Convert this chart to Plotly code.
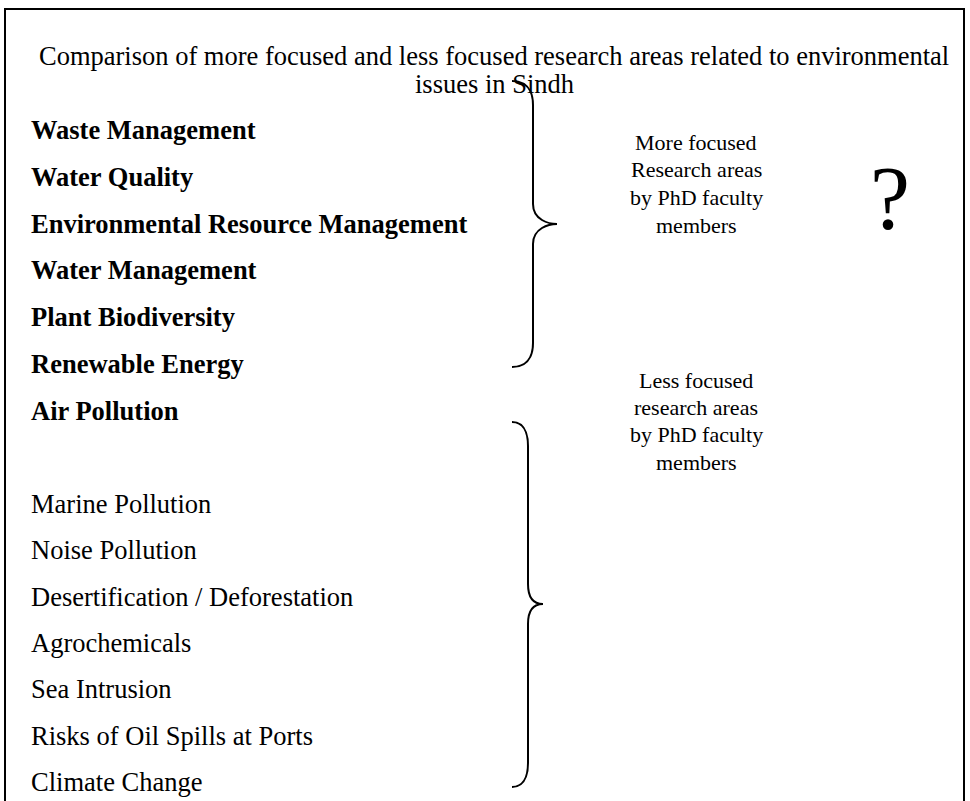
import plotly.graph_objects as go

W, H = 970, 801

title_lines = ["Comparison of more focused and less focused research areas related to environmental",
               "issues in Sindh"]
more_focused = ["Waste Management", "Water Quality", "Environmental Resource Management",
                "Water Management", "Plant Biodiversity", "Renewable Energy", "Air Pollution"]
less_focused = ["Marine Pollution", "Noise Pollution", "Desertification / Deforestation",
                "Agrochemicals", "Sea Intrusion", "Risks of Oil Spills at Ports", "Climate Change"]
more_label = ["More focused", "Research areas", "by PhD faculty", "members"]
less_label = ["Less focused", "research areas", "by PhD faculty", "members"]

FONT = "Liberation Serif"
BIG = 26.5
SMALL = 22
fig = go.Figure()
fig.add_trace(go.Scatter(x=[100], y=[100], mode="markers", marker=dict(opacity=0), hoverinfo="skip", showlegend=False))

ann = []
for i, t in enumerate(title_lines):
    ann.append(dict(x=494, y=56 + i * 28, text=t, xanchor="center", yanchor="middle",
                    font=dict(family=FONT, size=BIG, color="black")))
for i, t in enumerate(more_focused):
    ann.append(dict(x=29, y=130 + i * 46.8, text="<b>" + t + "</b>", xanchor="left", yanchor="middle",
                    font=dict(family=FONT, size=BIG, color="black")))
for i, t in enumerate(less_focused):
    ann.append(dict(x=29, y=504 + i * 46.3, text=t, xanchor="left", yanchor="middle",
                    font=dict(family=FONT, size=BIG, color="black")))
for i, t in enumerate(more_label):
    ann.append(dict(x=696, y=142 + i * 27.7, text=t, xanchor="center", yanchor="middle",
                    font=dict(family=FONT, size=SMALL, color="black")))
for i, t in enumerate(less_label):
    ann.append(dict(x=696, y=380 + i * 27.4, text=t, xanchor="center", yanchor="middle",
                    font=dict(family=FONT, size=SMALL, color="black")))
ann.append(dict(x=890, y=198, text="?", xanchor="center", yanchor="middle",
                font=dict(family=FONT, size=90, color="black")))
for a in ann:
    a.update(xref="x", yref="y", showarrow=False)


def brace(x_end, y_top, x_mid, y_tip, x_tip, y_bot, r=20):
    return (f"M {x_end},{y_top} C {x_mid},{y_top} {x_mid},{y_top + r} {x_mid},{y_top + r + 4} "
            f"L {x_mid},{y_tip - r} C {x_mid},{y_tip - 4} {x_tip - 8},{y_tip} {x_tip},{y_tip} "
            f"C {x_tip - 8},{y_tip} {x_mid},{y_tip + 4} {x_mid},{y_tip + r} "
            f"L {x_mid},{y_bot - r - 4} C {x_mid},{y_bot - r} {x_mid},{y_bot} {x_end},{y_bot}")


shapes = [
    dict(type="path", path=f"M 5,{H + 20} L 5,9 L 964,9 L 964,{H + 20}", line=dict(color="black", width=2)),
    dict(type="path", path=brace(512, 81, 533, 224, 557, 367), line=dict(color="black", width=2)),
    dict(type="path", path=brace(512, 422, 528, 604, 543, 787), line=dict(color="black", width=2)),
]
for s in shapes:
    s.update(xref="x", yref="y")

fig.update_layout(
    width=W, height=H, margin=dict(l=0, r=0, t=0, b=0),
    paper_bgcolor="white", plot_bgcolor="white",
    xaxis=dict(range=[0, W], visible=False, fixedrange=True),
    yaxis=dict(range=[H, 0], visible=False, fixedrange=True),
    annotations=ann, shapes=shapes, showlegend=False,
)
fig.write_html("out.html", config={"displayModeBar": False},
               post_script="document.body.style.margin='0';document.body.style.overflow='hidden';")
